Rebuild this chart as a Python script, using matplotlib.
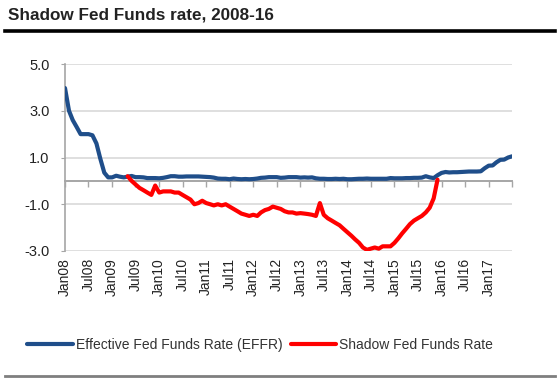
import pandas as pd
import matplotlib.pyplot as plt
from matplotlib.lines import Line2D

plt.rcParams['font.family'] = ['Liberation Sans', 'DejaVu Sans']

# monthly EFFR, Jan08 - Jul17
effr = [3.97, 3.0, 2.6, 2.3, 2.0, 2.0, 2.0, 1.95, 1.6, 0.95, 0.35, 0.15,
        0.15, 0.22, 0.18, 0.15, 0.18, 0.21, 0.16, 0.16, 0.15, 0.12, 0.12, 0.12,
        0.11, 0.13, 0.16, 0.20, 0.20, 0.18, 0.18, 0.19, 0.19, 0.19, 0.19, 0.18,
        0.17, 0.16, 0.14, 0.10, 0.09, 0.09, 0.07, 0.10, 0.08, 0.07, 0.08, 0.07,
        0.08, 0.10, 0.13, 0.14, 0.16, 0.16, 0.16, 0.13, 0.14, 0.16, 0.16, 0.16,
        0.14, 0.15, 0.14, 0.15, 0.11, 0.09, 0.09, 0.08, 0.08, 0.09, 0.08, 0.09,
        0.07, 0.07, 0.08, 0.09, 0.09, 0.10, 0.09, 0.09, 0.09, 0.09, 0.09, 0.12,
        0.11, 0.11, 0.11, 0.12, 0.12, 0.13, 0.13, 0.14, 0.20, 0.15, 0.12, 0.24,
        0.34, 0.38, 0.36, 0.37, 0.37, 0.38, 0.39, 0.40, 0.40, 0.40, 0.41, 0.54,
        0.65, 0.66, 0.79, 0.90, 0.91, 1.00, 1.05]

# monthly shadow rate, May09 - Dec15
shadow = [0.2, 0.0, -0.15, -0.3, -0.4, -0.5, -0.6, -0.2, -0.5, -0.45,
          -0.45, -0.45, -0.5, -0.5, -0.6, -0.7, -0.8, -1.0, -0.95, -0.85,
          -0.95, -1.0, -1.05, -1.0, -1.05, -1.0, -1.1, -1.2, -1.3, -1.4,
          -1.45, -1.5, -1.45, -1.5, -1.35, -1.25, -1.2, -1.1, -1.15, -1.2,
          -1.3, -1.35, -1.35, -1.4, -1.38, -1.4, -1.42, -1.45, -1.5, -0.95,
          -1.45, -1.6, -1.7, -1.8, -1.9, -2.05, -2.2, -2.35, -2.5, -2.65,
          -2.85, -2.95, -2.9, -2.85, -2.9, -2.8, -2.8, -2.8, -2.65, -2.45,
          -2.25, -2.05, -1.85, -1.7, -1.6, -1.5, -1.35, -1.15, -0.75, 0.05]

effr_dates = pd.date_range('2008-01-01', periods=len(effr), freq='MS')
shadow_dates = pd.date_range('2009-05-01', periods=len(shadow), freq='MS')

tick_dates = pd.date_range('2008-01-01', '2017-07-01', freq='6MS')
tick_labels = [d.strftime('%b%y') for d in tick_dates]
tick_labels[-1] = ''
y_ticks = [-3, -1, 1, 3, 5]

blue = '#1F4E8A'
red = '#FF0000'
gray = '#A6A6A6'

fig = plt.figure(figsize=(5.6, 3.83), dpi=100)

# title + rules
fig.text(8/560, 1-15/383, 'Shadow Fed Funds rate, 2008-16', fontsize=12.3,
         fontweight='bold', color='#222222', va='center', ha='left')
fig.add_artist(Line2D([5/560, 555/560], [1-31/383, 1-31/383], color='black', lw=2.6))
fig.add_artist(Line2D([5/560, 555/560], [1-376/383, 1-376/383], color='#7F7F7F', lw=2))

ax = fig.add_axes([65/560, 1-251/383, (512-65)/560, (251-64)/383])
ax.plot(effr_dates, effr, color=blue, lw=3, solid_capstyle='round',
        label='Effective Fed Funds Rate (EFFR)', zorder=3)
ax.plot(shadow_dates, shadow, color=red, lw=3, solid_capstyle='round',
        label='Shadow Fed Funds Rate', zorder=4)

ax.set_ylim(-3, 5)
ax.set_xlim(tick_dates[0], tick_dates[-1])
ax.set_yticks(y_ticks)
ax.set_yticklabels([f'{v:.1f}' for v in y_ticks])
ax.grid(axis='y', color='#D9D9D9', lw=1.2)
ax.set_axisbelow(True)

for s in ['top', 'right', 'bottom']:
    ax.spines[s].set_visible(False)
ax.spines['left'].set_color(gray)
ax.spines['left'].set_linewidth(1.2)
ax.tick_params(axis='y', length=3, color=gray, labelsize=10.5, labelcolor='#222222', pad=8)

ax.set_xticks(tick_dates)
ax.set_xticklabels(tick_labels, rotation=90)
ax.tick_params(axis='x', length=0, labelsize=10, labelcolor='#222222', pad=5)

# zero line with its own tick marks
sec = ax.secondary_xaxis(3/8)
sec.set_xticks(tick_dates)
sec.set_xticklabels([])
sec.spines['bottom'].set_color(gray)
sec.spines['bottom'].set_linewidth(1.4)
sec.tick_params(axis='x', direction='out', length=4, color=gray, width=1)

handles, labels = ax.get_legend_handles_labels()
fig.legend(handles, labels, loc='center', bbox_to_anchor=(260/560, 1-345/383),
           ncol=2, frameon=False, fontsize=10, handlelength=3.3,
           handletextpad=0.2, columnspacing=0.6, labelcolor='#333333')

plt.savefig('out.png', dpi=100)
